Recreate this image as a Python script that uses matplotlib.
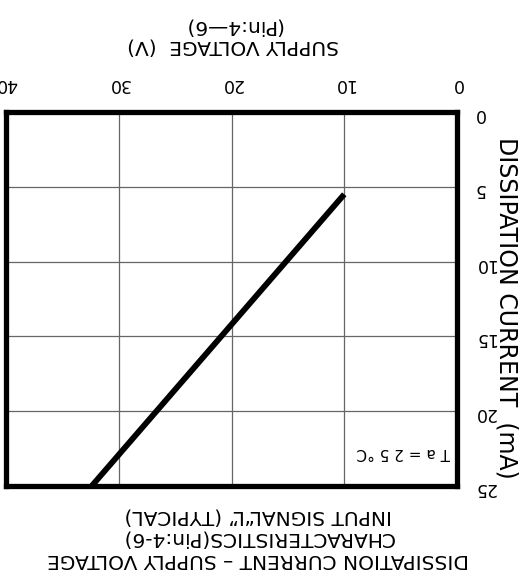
import numpy as np
import matplotlib.pyplot as plt

plt.rcParams['font.family'] = ['DejaVu Sans']

# the datasheet scan is upside down, so everything is drawn rotated by 180 deg

# supply voltage (V) and dissipation current (mA), typical line
volts = [10, 32.4]
current = [5.5, 25]

x_ticks = [0, 10, 20, 30, 40]
y_ticks = [0, 5, 10, 15, 20, 25]

title = "DISSIPATION CURRENT \u2013 SUPPLY VOLTAGE\nCHARACTERISTICS(Pin:4-6)\nINPUT SIGNAL\u201cL\u201d (TYPICAL)"
xtitle = "SUPPLY VOLTAGE  (V)\n(Pin:4\u20146)"
ytitle = "DISSIPATION CURRENT  (mA)"
note = "T a = 2 5 \u00b0C"

fig = plt.figure(figsize=(5.25, 5.76), dpi=100)
ax = fig.add_axes([6/525, 90/576, 451/525, 374/576])

ax.plot(volts, current, color="black", linewidth=4.2, solid_capstyle="butt")

ax.set_xlim(40, 0)
ax.set_ylim(25, 0)
ax.set_xticks(x_ticks)
ax.set_yticks(y_ticks)
ax.xaxis.tick_top()
ax.yaxis.tick_right()
ax.tick_params(length=0, labelsize=12.5, labelrotation=180)
ax.tick_params(axis="x", pad=14)
ax.tick_params(axis="y", pad=12)
ax.grid(True, color="#666666", linewidth=0.9)
for s in ax.spines.values():
    s.set_linewidth(3.8)

ax.text(0.88, 0.09, note, transform=ax.transAxes, rotation=180,
        ha="center", va="center", fontsize=11)

fig.text(233/525, 1 - 36/576, xtitle, rotation=180, ha="center", va="center",
         fontsize=14.5, linespacing=1.1)
fig.text(506/525, 1 - 308/576, ytitle, rotation=270, ha="center", va="center",
         fontsize=17)
fig.text(258/525, 1 - 538/576, title, rotation=180, ha="center", va="center",
         fontsize=14.5, linespacing=1.2)

fig.savefig("out.png", dpi=100)
